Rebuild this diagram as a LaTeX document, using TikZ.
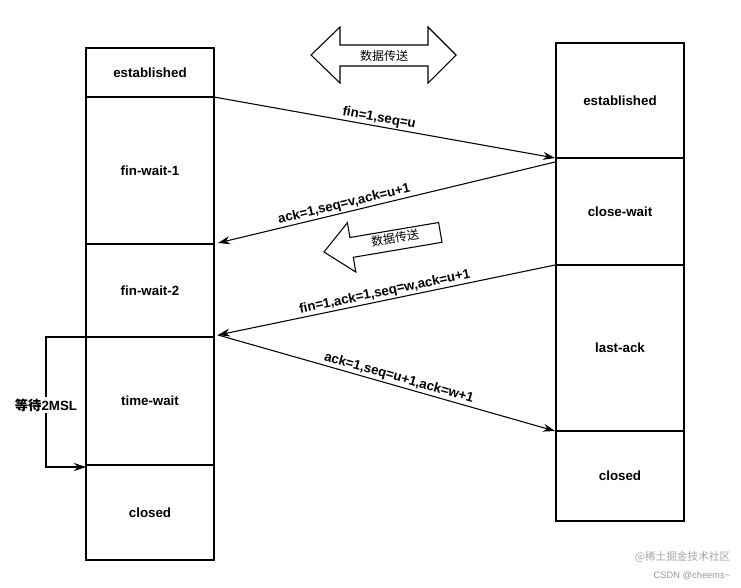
\documentclass[tikz,border=0pt]{standalone}
\usepackage{fontspec}
\setmainfont{Liberation Sans}
\newfontfamily\cjk{Noto Sans CJK SC}
\usetikzlibrary{arrows.meta}
\begin{document}
\begin{tikzpicture}[x=0.75pt,y=-0.75pt,
  st/.style={draw,thick,minimum width=96pt,inner sep=0pt,font=\bfseries\normalsize},
  msg/.style={thick,-{Stealth[length=9pt,width=6pt]}},
  lab/.style={font=\bfseries\normalsize,sloped,above,inner sep=1pt}]
\useasboundingbox (0,0) rectangle (741,587);
\fill[white] (0,0) rectangle (741,587);
% left column
\node[st,minimum height=36.75pt] (le) at (150,72.5) {established};
\node[st,minimum height=110.25pt] (lf1) at (150,170.5) {fin-wait-1};
\node[st,minimum height=69.75pt] (lf2) at (150,290.5) {fin-wait-2};
\node[st,minimum height=96pt] (ltw) at (150,401) {time-wait};
\node[st,minimum height=71.25pt] (lc) at (150,512.5) {closed};
% right column
\node[st,minimum height=86.25pt] (re) at (620,100.5) {established};
\node[st,minimum height=80.25pt] (rcw) at (620,211.5) {close-wait};
\node[st,minimum height=124.5pt] (rla) at (620,348) {last-ack};
\node[st,minimum height=67.5pt] (rc) at (620,476) {closed};
% messages
\coordinate (a1) at (214,97); \coordinate (b1) at (555,158);
\coordinate (a2) at (555,162); \coordinate (b2) at (218,243);
\coordinate (a3) at (555,265); \coordinate (b3) at (218,335);
\coordinate (a4) at (218,335); \coordinate (b4) at (555,431);
\draw[msg] (a1) -- node[lab,pos=0.48] {fin=1,seq=u} (b1);
\draw[msg] (a2) -- node[lab,pos=0.62] {ack=1,seq=v,ack=u+1} (b2);
\draw[msg] (a3) -- node[lab,pos=0.5] {fin=1,ack=1,seq=w,ack=u+1} (b3);
\draw[msg] (a4) -- node[lab,pos=0.53] {ack=1,seq=u+1,ack=w+1} (b4);
% data transfer arrows
\draw[thick,fill=white] (311,55) -- (340,27) -- (340,45) -- (428,45) -- (428,27) -- (456,55)
  -- (428,83) -- (428,66) -- (340,66) -- (340,83) -- cycle;
\node[font=\cjk\small] (dt1) at (384,56) {数据传送};
\draw[thick,fill=white] (324,252) -- (347.4,222.7) -- (349.9,237.5) -- (438.6,222.5)
  -- (442.0,242.3) -- (353.3,257.3) -- (355.8,272.0) -- cycle;
\node[font=\cjk\small,rotate=9.5] (dt2) at (395,238) {数据传送};
% 2MSL wait
\coordinate (w1) at (86,337); \coordinate (w2) at (46,337);
\coordinate (w3) at (46,467); \coordinate (w4) at (86,467);
\draw[msg] (w1) -- (w2) -- (w3) -- (w4);
\node[fill=white,font=\bfseries\normalsize,inner sep=1pt] (msl) at (46,405) {{\cjk 等待}2MSL};
% watermark
\node[anchor=east,font=\cjk\footnotesize,text=gray!70] (wm1) at (735,557) {@稀土掘金技术社区};
\node[anchor=east,font=\scriptsize,text=gray!80] (wm2) at (735,576) {CSDN @cheems\textasciitilde};
\end{tikzpicture}
\end{document}
